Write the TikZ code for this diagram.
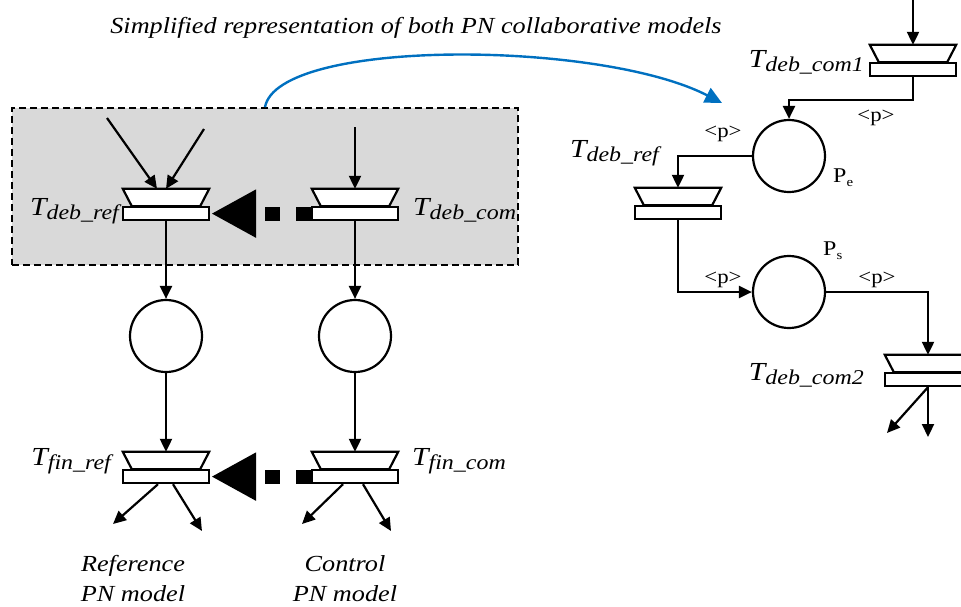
\documentclass[tikz,border=0pt]{standalone}
\usepackage{fontspec}
\usepackage{graphicx}
\setmainfont{Liberation Serif}
\usetikzlibrary{arrows.meta}
\definecolor{boxgray}{HTML}{D9D9D9}
\definecolor{linkblue}{HTML}{0070C0}
\newcommand\sx[1]{\scalebox{1.14}[1]{#1}}
\newcommand\Tlab[1]{\sx{{\fontsize{26}{26}\selectfont\itshape T}\raisebox{-4pt}{\fontsize{21}{21}\selectfont\itshape #1}}}
\newcommand\Plab[1]{\sx{{\fontsize{21}{21}\selectfont P}\raisebox{-4pt}{\fontsize{13}{13}\selectfont #1}}}
\tikzset{
  shapeline/.style={draw=black,line width=2.2pt,fill=white,line join=miter},
  arr/.style={line width=2.2pt,-{Triangle[length=13pt,width=12pt]}},
  place/.style={circle,draw,line width=2.2pt,minimum size=72pt,inner sep=0pt},
  trapn/.style={rectangle,minimum width=86pt,minimum height=17pt,inner sep=0pt},
  barbox/.style={rectangle,shapeline,minimum width=86pt,minimum height=13pt,inner sep=0pt},
  sync/.style={line width=14pt,dash pattern=on 15pt off 16pt,shorten >=1pt,
     -{Triangle[length=45pt,width=45pt]}},
  lab/.style={inner sep=0pt},
  plab/.style={inner sep=0pt,anchor=base,font=\fontsize{20}{20}\selectfont},
  note/.style={inner sep=0pt,align=center,font=\fontsize{23}{30}\selectfont\itshape},
}
\newcommand\trans[3]{%
  \node[trapn] (#1t) at (#2,#3-8.5) {};
  \draw[shapeline] (#1t.north west) -- (#1t.north east) -- ([xshift=-9pt]#1t.south east)
     -- ([xshift=9pt]#1t.south west) -- cycle;
  \node[barbox,anchor=north] (#1) at (#2,#3) {};
}
\begin{document}
\begin{tikzpicture}[x=1pt,y=-1pt]
\useasboundingbox (0,0) rectangle (961,606);
% grey frame
\node[rectangle,draw,fill=boxgray,line width=1.8pt,dash pattern=on 7pt off 4pt,
  minimum width=506pt,minimum height=157pt,inner sep=0pt] (simp) at (265,186.5) {};
% title
\node[note] (title) at (416,28) {\sx{Simplified representation of both PN collaborative models}};
% left transitions
\trans{dr}{166}{206}
\trans{dc}{355}{206}
\trans{fr}{166}{469}
\trans{fc}{355}{469}
\node[place] (pl) at (166,336) {};
\node[place] (pc) at (355,336) {};
% inputs
\coordinate (in1) at (107,118);
\coordinate (in2) at (204,129);
\coordinate (in3) at (355,127);
\draw[arr] (in1) -- ([xshift=-9pt]drt.north);
\draw[arr] (in2) -- (drt.north);
\draw[arr] (in3) -- (dct.north);
\draw[arr] (dr.south) -- (pl.north);
\draw[arr] (dc.south) -- (pc.north);
\draw[arr] (pl.south) -- (frt.north);
\draw[arr] (pc.south) -- (fct.north);
% outputs
\coordinate (o1) at (113,524);
\coordinate (o2) at (202,531);
\coordinate (o3) at (302,524);
\coordinate (o4) at (391,531);
\draw[arr] ([xshift=-8pt]fr.south) -- (o1);
\draw[arr] ([xshift=7pt]fr.south) -- (o2);
\draw[arr] ([xshift=-12pt]fc.south) -- (o3);
\draw[arr] ([xshift=8pt]fc.south) -- (o4);
% synchronisation links
\draw[sync] (dc.west) -- (dr.east);
\draw[sync] (fc.west) -- (fr.east);
% left labels
\node[lab,anchor=base east] (ldr) at (119,215) {\Tlab{deb\_ref}};
\node[lab,anchor=base west] (ldc) at (413,215) {\Tlab{deb\_com}};
\node[lab,anchor=base east] (lfr) at (111,465) {\Tlab{fin\_ref}};
\node[lab,anchor=base west] (lfc) at (412,465) {\Tlab{fin\_com}};
\node[note] (refm) at (133,579) {\sx{Reference}\\\sx{PN model}};
\node[note] (conm) at (345,579) {\sx{Control}\\\sx{PN model}};
% blue link
\coordinate (be) at (722,103);
\draw[draw=linkblue,line width=2.4pt,-{Triangle[length=17pt,width=16pt]},color=linkblue]
  (simp.north) .. controls (278,38) and (600,40) .. (be);
% right net
\trans{ca}{913}{62}
\trans{rr}{678}{205}
\trans{cb}{928}{372}
\node[place] (pe) at (789,156) {};
\node[place] (ps) at (789,292) {};
\coordinate (cain) at (913,0);
\draw[arr] (cain) -- (cat.north);
\draw[arr] (ca.south) -- ++(0,23) -| (pe.north);
\draw[arr] (pe.west) -| (rrt.north);
\draw[arr] (rr.south) |- (ps.west);
\draw[arr] (ps.east) -| (cbt.north);
\coordinate (o5) at (887,433);
\coordinate (o6) at (928,437);
\draw[arr] (cb.south) -- (o5);
\draw[arr] (cb.south) -- (o6);
\node[lab,anchor=base east] (lca) at (864,67) {\Tlab{deb\_com1}};
\node[lab,anchor=base east] (lrr) at (659,157) {\Tlab{deb\_ref}};
\node[lab,anchor=base east] (lcb) at (864,380) {\Tlab{deb\_com2}};
\node[plab] (p1) at (876,121) {\sx{<p>}};
\node[plab] (p2) at (723,137) {\sx{<p>}};
\node[plab] (p3) at (723,283) {\sx{<p>}};
\node[plab] (p4) at (877,283) {\sx{<p>}};
\node[lab,anchor=base west] (pel) at (833,182) {\Plab{e}};
\node[lab,anchor=base west] (psl) at (823,255) {\Plab{s}};
\end{tikzpicture}
\end{document}
